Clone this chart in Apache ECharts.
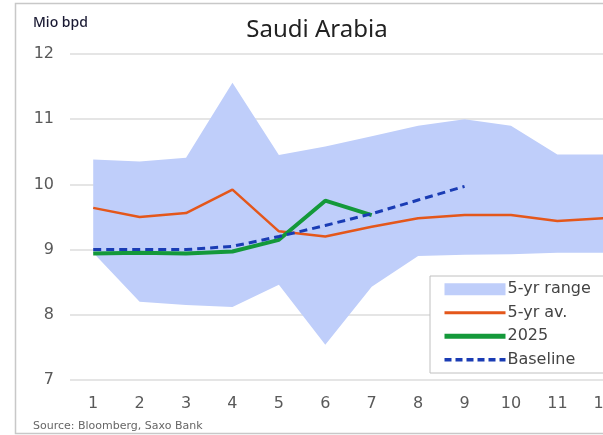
<!DOCTYPE html>
<html>
<head>
<meta charset="utf-8">
<script src="https://cdn.jsdelivr.net/npm/echarts@6/dist/echarts.min.js"></script>
<style>
  html, body { margin: 0; padding: 0; background: #fff; }
  #container { width: 603px; height: 435px; }
</style>
</head>
<body>
<div id="container"></div>
<script>
// month categories
var months = ['1', '2', '3', '4', '5', '6', '7', '8', '9', '10', '11', '12'];
// 5-yr range, min and max
var rangeLow = [8.95, 8.2, 8.15, 8.12, 8.46, 7.54, 8.43, 8.9, 8.92, 8.93, 8.95, 8.95];
var rangeHigh = [10.38, 10.35, 10.41, 11.56, 10.45, 10.58, 10.74, 10.9, 11.0, 10.9, 10.46, 10.46];
// 5-yr average
var avg5 = [9.64, 9.5, 9.56, 9.92, 9.28, 9.2, 9.35, 9.48, 9.53, 9.53, 9.44, 9.48];
// 2025
var y2025 = [8.94, 8.95, 8.94, 8.97, 9.15, 9.75, 9.53];
// Baseline
var baseline = [9.0, 9.0, 9.0, 9.05, 9.2, 9.37, 9.55, 9.76, 9.97];

var rangeSpan = [];
for (var i = 0; i < rangeLow.length; i++) {
    rangeSpan.push(+(rangeHigh[i] - rangeLow[i]).toFixed(3));
}

var myChart = echarts.init(document.getElementById('container'));

var option = {
    animation: false,
    title: {
        text: 'Saudi Arabia',
        left: 312,
        textAlign: 'center',
        top: 13,
        textStyle: { fontFamily: 'Noto Sans', fontWeight: 'normal', fontSize: 24, color: '#222' }
    },
    graphic: [
        { // frame
            type: 'rect',
            shape: { x: 15.5, y: 3.5, width: 700, height: 430 },
            style: { fill: 'none', stroke: '#c8c8c8', lineWidth: 1.5 },
            z: 0
        },
        {
            type: 'text',
            left: 33, top: 16,
            style: { text: 'Mio bpd', fontFamily: 'Noto Sans', fontWeight: 500, fontSize: 14, fill: '#1a1a33' }
        },
        {
            type: 'text',
            left: 33, top: 421,
            style: { text: 'Source: Bloomberg, Saxo Bank', fontFamily: 'DejaVu Sans', fontSize: 11, fill: '#666' }
        }
    ],
    legend: {
        orient: 'vertical',
        left: 430,
        top: 276,
        width: 250,
        padding: [4, 80, 4, 12],
        borderColor: '#c0c0c0',
        borderWidth: 1,
        backgroundColor: '#fff',
        itemWidth: 61,
        itemHeight: 12,
        itemGap: 5,
        itemStyle: { opacity: 0 },
        textStyle: { fontFamily: 'DejaVu Sans', fontSize: 16, color: '#444', lineHeight: 18.5, padding: [0, 0, 0, -3] },
        data: [
            { name: '5-yr range', icon: 'rect', itemStyle: { opacity: 1, color: '#bfcefa' } },
            { name: '5-yr av.', lineStyle: { width: 3 } },
            { name: '2025', lineStyle: { width: 5 } },
            { name: 'Baseline', lineStyle: { width: 3.5, type: [7, 4] } }
        ]
    },
    grid: {
        left: 70,
        top: 54,
        width: 557,
        height: 326,
        outerBoundsMode: 'none'
    },
    xAxis: {
        type: 'category',
        data: months,
        boundaryGap: true,
        axisLine: { show: false },
        axisTick: { show: false },
        axisLabel: { fontFamily: 'DejaVu Sans', fontSize: 16, color: '#595959', margin: 16 }
    },
    yAxis: {
        type: 'value',
        min: 7,
        max: 12,
        interval: 1,
        axisLine: { show: false },
        axisTick: { show: false },
        splitLine: { lineStyle: { color: '#dcdcdc', width: 1.5 } },
        axisLabel: { fontFamily: 'DejaVu Sans', fontSize: 16, color: '#595959', margin: 16 }
    },
    series: [
        {
            name: 'rangeBase',
            type: 'line',
            data: rangeLow,
            stack: 'range',
            symbol: 'none',
            lineStyle: { width: 0 },
            areaStyle: { color: 'rgba(0,0,0,0)' },
            silent: true,
            z: 1
        },
        {
            name: '5-yr range',
            type: 'line',
            data: rangeSpan,
            stack: 'range',
            symbol: 'none',
            itemStyle: { color: '#bfcefa' },
            lineStyle: { width: 0 },
            areaStyle: { color: '#bfcefa', opacity: 1 },
            z: 1
        },
        {
            name: '5-yr av.',
            type: 'line',
            data: avg5,
            symbol: 'none',
            itemStyle: { color: '#e4571b' },
            lineStyle: { color: '#e4571b', width: 2.5 },
            z: 3
        },
        {
            name: '2025',
            type: 'line',
            data: y2025,
            symbol: 'none',
            itemStyle: { color: '#14993a' },
            lineStyle: { color: '#14993a', width: 4 },
            z: 4
        },
        {
            name: 'Baseline',
            type: 'line',
            data: baseline,
            symbol: 'none',
            itemStyle: { color: '#1a3cb4' },
            lineStyle: { color: '#1a3cb4', width: 3, type: [8, 5] },
            z: 5
        }
    ]
};

myChart.setOption(option);
</script>
</body>
</html>
